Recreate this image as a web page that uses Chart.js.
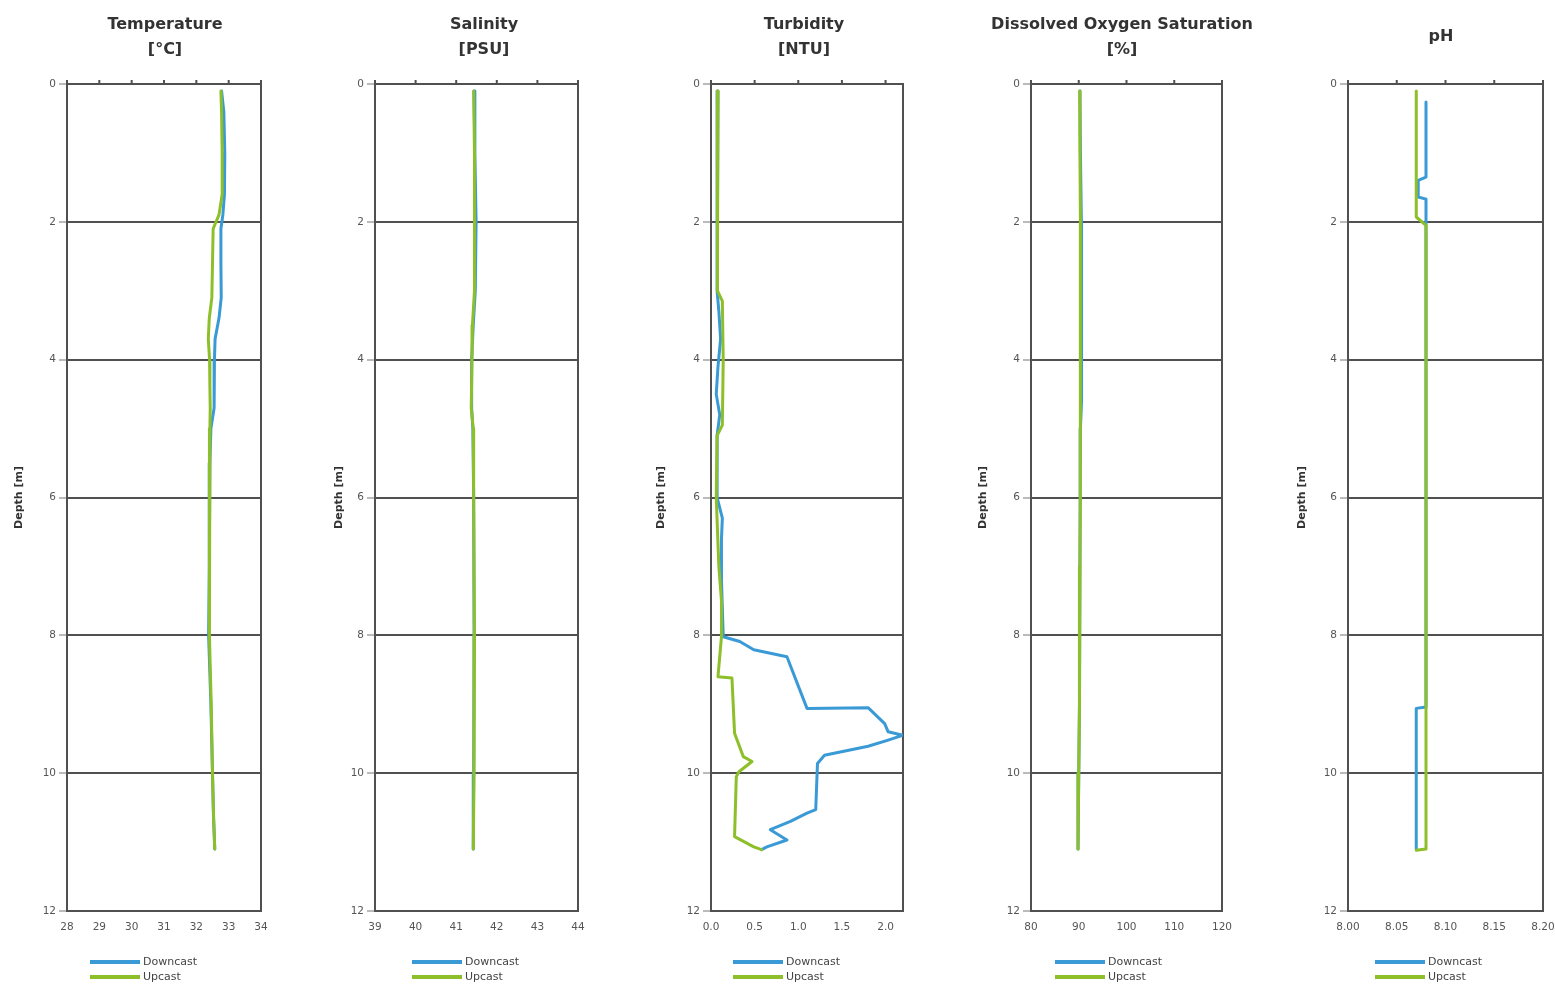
<!DOCTYPE html>
<html>
<head>
<meta charset="utf-8">
<script src="https://cdn.jsdelivr.net/npm/chart.js@4.4.1/dist/chart.umd.min.js"></script>
<style>
  html, body { margin: 0; padding: 0; background: #fff; width: 1555px; height: 986px; overflow: hidden; position: relative; }
  canvas { position: absolute; top: 0; }
</style>
</head>
<body>
<script>
// CTD cast profiles: downcast vs upcast, depth in metres

const seriesLabels = ['Downcast', 'Upcast'];
const depthTicks = [0, 2, 4, 6, 8, 10, 12];

// Temperature [°C]
const tempTicks = [28, 29, 30, 31, 32, 33, 34];
const tempDepth = [0.1, 0.4, 1.0, 1.6, 1.9, 2.1, 2.6, 3.1, 3.4, 3.7, 4.0, 4.4, 4.7, 5.0, 5.5, 6.0, 7.0, 8.0, 9.0, 10.0, 10.6, 11.1];
const tempDown  = [32.78, 32.85, 32.88, 32.87, 32.82, 32.76, 32.76, 32.77, 32.70, 32.58, 32.56, 32.55, 32.55, 32.45, 32.42, 32.40, 32.40, 32.38, 32.45, 32.50, 32.53, 32.57];
const tempUp    = [32.76, 32.78, 32.80, 32.80, 32.70, 32.52, 32.50, 32.48, 32.40, 32.37, 32.41, 32.42, 32.43, 32.42, 32.41, 32.40, 32.40, 32.41, 32.46, 32.50, 32.53, 32.57];

// Salinity [PSU]
const salTicks = [39, 40, 41, 42, 43, 44];
const salDepth = [0.1, 1.0, 2.0, 3.0, 3.5, 4.0, 4.7, 5.0, 6.0, 8.0, 10.0, 11.1];
const salDown  = [41.44, 41.46, 41.49, 41.47, 41.42, 41.38, 41.38, 41.41, 41.43, 41.44, 41.43, 41.42];
const salUp    = [41.43, 41.45, 41.46, 41.44, 41.40, 41.39, 41.37, 41.42, 41.43, 41.45, 41.44, 41.42];

// Turbidity [NTU]
const turbTicks = [0.0, 0.5, 1.0, 1.5, 2.0];
const turbDownDepth = [0.1, 1.0, 2.0, 3.0, 3.3, 3.7, 4.1, 4.5, 4.8, 5.1, 6.0, 6.3, 6.6, 7.2, 7.6, 8.02, 8.09, 8.21, 8.31, 9.06, 9.05, 9.28, 9.40, 9.45, 9.52, 9.61, 9.74, 9.86, 10.53, 10.58, 10.70, 10.82, 10.97, 11.07, 11.11];
const turbDown      = [0.08, 0.07, 0.07, 0.07, 0.09, 0.11, 0.08, 0.06, 0.10, 0.07, 0.07, 0.13, 0.12, 0.12, 0.13, 0.14, 0.33, 0.49, 0.87, 1.10, 1.80, 1.99, 2.03, 2.20, 2.03, 1.80, 1.30, 1.22, 1.20, 1.10, 0.91, 0.68, 0.87, 0.64, 0.58];
const turbUpDepth = [0.1, 1.0, 2.0, 3.0, 3.15, 4.0, 4.95, 5.1, 6.0, 7.0, 7.5, 8.02, 8.6, 8.62, 9.42, 9.76, 9.83, 9.98, 10.05, 10.92, 11.07, 11.11];
const turbUp      = [0.08, 0.07, 0.08, 0.07, 0.13, 0.14, 0.13, 0.07, 0.06, 0.09, 0.12, 0.12, 0.08, 0.24, 0.27, 0.37, 0.47, 0.32, 0.29, 0.27, 0.49, 0.58];

// Dissolved oxygen saturation [%]
const doTicks = [80, 90, 100, 110, 120];
const doDepth = [0.1, 1.0, 2.0, 3.0, 4.0, 4.6, 5.0, 6.0, 7.0, 8.0, 9.0, 10.0, 11.1];
const doDown  = [90.25, 90.35, 90.55, 90.65, 90.60, 90.50, 90.35, 90.30, 90.25, 90.20, 90.10, 90.00, 89.85];
const doUp    = [90.20, 90.25, 90.35, 90.40, 90.35, 90.30, 90.30, 90.30, 90.25, 90.20, 90.10, 90.00, 89.85];

// pH
const phTicks = [8.00, 8.05, 8.10, 8.15, 8.20];
const phDownDepth = [0.26, 1.35, 1.40, 1.64, 1.67, 9.04, 9.06, 11.1];
const phDown      = [8.08, 8.08, 8.072, 8.072, 8.08, 8.08, 8.07, 8.07];
const phUpDepth = [0.1, 1.93, 2.05, 11.1, 11.12];
const phUp      = [8.07, 8.07, 8.08, 8.08, 8.07];

// ---- drawing ----
const CANVAS_H = 986;
const BOTTOM_PAD = 45;
const X_AXIS_H = 30;
const BLUE = '#3a9ad6';
const GREEN = '#8dbf2a';
const FRAME = '#505050';
const FONT = 'DejaVu Sans';

// rightW: empty margin right of the plot, sized so the panel title is centred where it belongs
const panels = [
  { title: ['Temperature', '[°C]'], plotLeft: 67,   plotRight: 261,  yAxisW: 58, rightW: 60, min: 28, max: 34,  ticks: tempTicks, dec: 0, legendX: 23,
    down: [tempDepth, tempDown], up: [tempDepth, tempUp] },
  { title: ['Salinity', '[PSU]'],   plotLeft: 375,  plotRight: 578,  yAxisW: 46, rightW: 61, min: 39, max: 44,  ticks: salTicks,  dec: 0, legendX: 37,
    down: [salDepth, salDown], up: [salDepth, salUp] },
  { title: ['Turbidity', '[NTU]'],  plotLeft: 711,  plotRight: 903,  yAxisW: 60, rightW: 54, min: 0,  max: 2.2, ticks: turbTicks, dec: 1, legendX: 22,
    down: [turbDownDepth, turbDown], up: [turbUpDepth, turbUp] },
  { title: ['Dissolved Oxygen Saturation', '[%]'], plotLeft: 1031, plotRight: 1222, yAxisW: 58, rightW: 49, min: 80, max: 120, ticks: doTicks, dec: 0, legendX: 24,
    down: [doDepth, doDown], up: [doDepth, doUp] },
  { title: 'pH',                    plotLeft: 1348, plotRight: 1543, yAxisW: 56, rightW: 47, min: 8.0, max: 8.2, ticks: phTicks, dec: 2, legendX: 27,
    down: [phDownDepth, phDown], up: [phUpDepth, phUp] }
];

const toPoints = ([depths, values]) => depths.map((d, i) => ({ x: values[i], y: d }));

// Frame around the plot area, short tick marks on the top edge, and the stacked legend
const panelDecor = {
  id: 'panelDecor',
  beforeDatasetsDraw(chart) {
    const { ctx, chartArea: a } = chart;
    const xs = chart.scales.x;
    ctx.save();
    ctx.strokeStyle = FRAME;
    ctx.lineWidth = 2;
    ctx.strokeRect(a.left, a.top, a.right - a.left, a.bottom - a.top);
    ctx.beginPath();
    xs.ticks.forEach(t => {
      const px = xs.getPixelForValue(t.value);
      ctx.moveTo(px, a.top);
      ctx.lineTo(px, a.top - 4);
    });
    ctx.stroke();
    ctx.restore();
  },
  afterDraw(chart, args, opts) {
    const { ctx, chartArea: a } = chart;
    ctx.save();
    ctx.font = '11px "' + FONT + '"';
    ctx.textBaseline = 'middle';
    ctx.textAlign = 'left';
    chart.data.datasets.forEach((ds, i) => {
      const y = 962 + i * 15;
      const x0 = a.left + opts.offset;
      ctx.strokeStyle = ds.borderColor;
      ctx.lineWidth = 4;
      ctx.beginPath();
      ctx.moveTo(x0, y);
      ctx.lineTo(x0 + 50, y);
      ctx.stroke();
      ctx.fillStyle = '#444';
      ctx.fillText(ds.label, x0 + 53, y);
    });
    ctx.restore();
  }
};

panels.forEach(p => {
  const plotW = p.plotRight - p.plotLeft;
  const W = p.yAxisW + plotW + p.rightW;
  const canvas = document.createElement('canvas');
  canvas.width = W;
  canvas.height = CANVAS_H;
  canvas.style.left = (p.plotLeft - p.yAxisW) + 'px';
  canvas.style.width = W + 'px';
  canvas.style.height = CANVAS_H + 'px';
  document.body.appendChild(canvas);

  const twoLine = Array.isArray(p.title);

  new Chart(canvas, {
    type: 'line',
    data: {
      datasets: [
        { label: seriesLabels[0], data: toPoints(p.down), borderColor: BLUE, backgroundColor: BLUE, order: 1 },
        { label: seriesLabels[1], data: toPoints(p.up),   borderColor: GREEN, backgroundColor: GREEN, order: 0 }
      ]
    },
    options: {
      responsive: false,
      animation: false,
      devicePixelRatio: 1,
      layout: { autoPadding: false, padding: { left: 0, right: 0, top: 0, bottom: BOTTOM_PAD } },
      elements: {
        point: { radius: 0, hoverRadius: 0 },
        line: { borderWidth: 3, tension: 0, fill: false, borderJoinStyle: 'round', borderCapStyle: 'round' }
      },
      plugins: {
        legend: { display: false },
        tooltip: { enabled: false },
        title: {
          display: true,
          text: p.title,
          fullSize: true,
          color: '#333',
          font: { family: FONT, size: 16, weight: 'bold', lineHeight: 1.5625 },
          padding: twoLine ? { top: 12, bottom: 22 } : { top: 24.5, bottom: 34.5 }
        },
        panelDecor: { offset: p.legendX }
      },
      scales: {
        x: {
          type: 'linear',
          position: 'bottom',
          min: p.min,
          max: p.max,
          afterBuildTicks: s => { s.ticks = p.ticks.map(v => ({ value: v })); },
          afterFit: s => { s.height = X_AXIS_H; },
          ticks: {
            autoSkip: false,
            maxRotation: 0,
            padding: 10,
            color: '#555',
            font: { family: FONT, size: 10.5 },
            callback: v => Number(v).toFixed(p.dec)
          },
          grid: { drawOnChartArea: false, drawTicks: false },
          border: { display: false }
        },
        y: {
          type: 'linear',
          reverse: true,
          min: 0,
          max: 12,
          afterBuildTicks: s => { s.ticks = depthTicks.map(v => ({ value: v })); },
          afterFit: s => { s.width = p.yAxisW; },
          ticks: {
            autoSkip: false,
            padding: 3,
            color: '#555',
            font: { family: FONT, size: 10.5 },
            callback: v => String(v)
          },
          grid: { color: FRAME, lineWidth: 2, tickLength: 8, tickColor: '#777', tickWidth: 1 },
          border: { display: false },
          title: {
            display: true,
            text: 'Depth [m]',
            color: '#333',
            font: { family: FONT, size: 11, weight: 'bold' },
            padding: { top: 4, bottom: 0 }
          }
        },
        // blank right-hand margin (no ticks, grid or border)
        margin: {
          type: 'linear',
          position: 'right',
          min: 0,
          max: 12,
          afterFit: s => { s.width = p.rightW; },
          ticks: { display: false },
          grid: { display: false, drawTicks: false },
          border: { display: false }
        }
      }
    },
    plugins: [panelDecor]
  });
});
</script>
</body>
</html>
